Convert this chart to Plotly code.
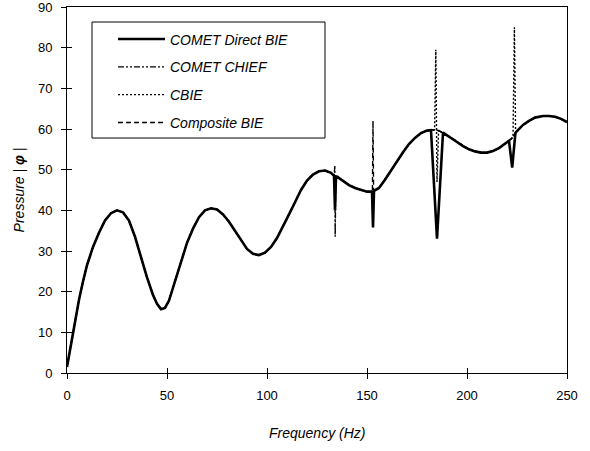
import plotly.graph_objects as go

# ---------------- data ----------------
base_freq = [0, 2, 4, 6, 8, 10, 13, 16, 19, 22, 25, 28, 31, 34, 37, 40, 43, 45, 47, 49,
             51, 54, 57, 60, 63, 66, 69, 72, 75, 78, 81, 84, 87, 90, 93, 96, 99, 102,
             105, 108, 111, 114, 117, 120, 123, 126, 129, 132, 135, 138, 141, 144, 147,
             150, 153, 156, 159, 162, 165, 168, 171, 174, 177, 180, 183, 186, 189, 192,
             195, 198, 201, 204, 207, 210, 213, 216, 219, 222, 225, 228, 231, 234, 238,
             241, 244, 247, 250]
base_pressure = [1.5, 7, 13, 18, 22.5, 26.5, 31, 34.5, 37.5, 39.3, 40, 39.5, 37.5, 33.5,
                 28.5, 23.5, 19.2, 17, 15.7, 16, 17.8, 22.5, 27.5, 32, 35.5, 38.3, 40, 40.5,
                 40.2, 39, 37.2, 35, 32.5, 30.5, 29.3, 29, 29.6, 31, 33.2, 36, 39, 42, 45,
                 47.3, 48.8, 49.6, 49.8, 49.2, 48.3, 47.2, 46.2, 45.5, 45, 44.6, 44.6, 45.5,
                 47.5, 49.8, 52, 54.3, 56.3, 57.8, 59, 59.6, 59.8, 59.6, 58.8, 57.8, 56.8,
                 55.8, 55, 54.5, 54.2, 54.2, 54.6, 55.3, 56.3, 57.5, 59.5, 61, 62, 62.8,
                 63.2, 63.2, 63, 62.5, 61.7]

# spikes at the irregular frequencies, per series (freq lists / pressure lists)
direct_spike_freq = [[133.5, 134.0, 134.5], [152.5, 153.0, 153.5],
                     [182.0, 185.0, 188.0], [221.0, 222.6, 224.2]]
direct_spike_pressure = [[48.5, 40.0, 48.3], [44.6, 35.8, 44.8],
                         [59.7, 33.0, 59.1], [57.1, 50.5, 59.0]]

chief_spike_freq = [[133.6, 133.9, 134.1, 134.4]]
chief_spike_pressure = [[48.5, 51.0, 33.5, 48.4]]

cbie_spike_freq = [[183.8, 184.4, 185.0, 185.8], [223.0, 223.7, 224.3]]
cbie_spike_pressure = [[59.8, 79.5, 47.0, 59.7], [58.0, 85.0, 59.2]]

composite_spike_freq = [[152.7, 153.0, 153.3]]
composite_spike_pressure = [[44.6, 62.0, 44.7]]

series_names = ["COMET Direct BIE", "COMET CHIEF", "CBIE", "Composite BIE"]
x_ticks = [0, 50, 100, 150, 200, 250]
y_ticks = [0, 10, 20, 30, 40, 50, 60, 70, 80, 90]


def merge(bf, bp, sf, sp):
    pts = list(zip(bf, bp))
    for cf, cp in zip(sf, sp):
        lo, hi = min(cf), max(cf)
        pts = [(f, p) for f, p in pts if not (lo <= f <= hi)]
        pts += list(zip(cf, cp))
    pts.sort(key=lambda t: t[0])
    return [t[0] for t in pts], [t[1] for t in pts]


FONT = "Liberation Sans, Arial, sans-serif"

styles = [
    dict(width=2.6, dash="solid"),
    dict(width=1.4, dash="6px,2px,2px,2px,2px,2px"),
    dict(width=1.4, dash="2px,2px"),
    dict(width=1.4, dash="5px,3px"),
]
spikes = [
    (direct_spike_freq, direct_spike_pressure),
    (chief_spike_freq, chief_spike_pressure),
    (cbie_spike_freq, cbie_spike_pressure),
    (composite_spike_freq, composite_spike_pressure),
]

fig = go.Figure()
for i, (name, st, (sf, sp)) in enumerate(zip(series_names, styles, spikes)):
    fx, fy = merge(base_freq, base_pressure, sf, sp)
    fig.add_trace(go.Scatter(
        x=fx, y=fy, mode="lines", name=name, legendgroup=f"g{i}",
        line=dict(color="black", width=st["width"], dash=st["dash"]),
    ))

# helper trace so the overlaid axes (inner half of the cross ticks) are drawn
fig.add_trace(go.Scatter(x=[None], y=[None], xaxis="x2", yaxis="y2",
                         showlegend=False, hoverinfo="skip"))

axis_common = dict(showgrid=False, zeroline=False, color="black", automargin=False)

fig.update_layout(
    width=590, height=451,
    margin=dict(l=67, r=23, t=7, b=78),
    paper_bgcolor="white", plot_bgcolor="white",
    font=dict(family=FONT, color="black", size=13),
    showlegend=True,
    legend=dict(
        x=0.092, y=0.955, xanchor="left", yanchor="top",
        bgcolor="rgba(0,0,0,0)", borderwidth=0,
        font=dict(family=FONT, size=14, style="italic", color="black"),
        itemwidth=47, tracegroupgap=6.6, traceorder="grouped",
    ),
    xaxis=dict(
        range=[0, 250], tickvals=x_ticks, ticks="outside", ticklen=5,
        tickcolor="black", showline=True, linecolor="black", linewidth=1,
        mirror=True, ticklabelstandoff=5, ticklabeloverflow="allow",
        tickfont=dict(family=FONT, size=13),
        **axis_common,
    ),
    yaxis=dict(
        range=[0, 90], tickvals=y_ticks, ticks="outside", ticklen=5,
        tickcolor="black", showline=True, linecolor="black", linewidth=1,
        mirror=True, ticklabelstandoff=6, ticklabeloverflow="allow",
        tickfont=dict(family=FONT, size=13),
        title=dict(text="Pressure | <b>φ</b> |", standoff=10,
                   font=dict(family=FONT, size=14, style="italic")),
        **axis_common,
    ),
    xaxis2=dict(overlaying="x", range=[0, 250], tickvals=x_ticks,
                ticks="inside", ticklen=5, tickcolor="black",
                showticklabels=False, showline=False, side="bottom",
                **axis_common),
    yaxis2=dict(overlaying="y", range=[0, 90], tickvals=y_ticks,
                ticks="inside", ticklen=5, tickcolor="black",
                showticklabels=False, showline=False, side="left",
                **axis_common),
    shapes=[dict(type="rect", xref="paper", yref="paper",
                 x0=0.05, x1=0.516, y0=0.642, y1=0.959,
                 line=dict(color="black", width=1), fillcolor="white",
                 layer="below")],
    annotations=[dict(text="Frequency (Hz)", xref="paper", yref="paper",
                      x=0.5, y=-0.164, xanchor="center", yanchor="middle",
                      showarrow=False,
                      font=dict(family=FONT, size=14, style="italic", color="black"))],
)

fig.write_html("out.html", config={"displayModeBar": False},
               post_script="document.body.style.margin='0';")
